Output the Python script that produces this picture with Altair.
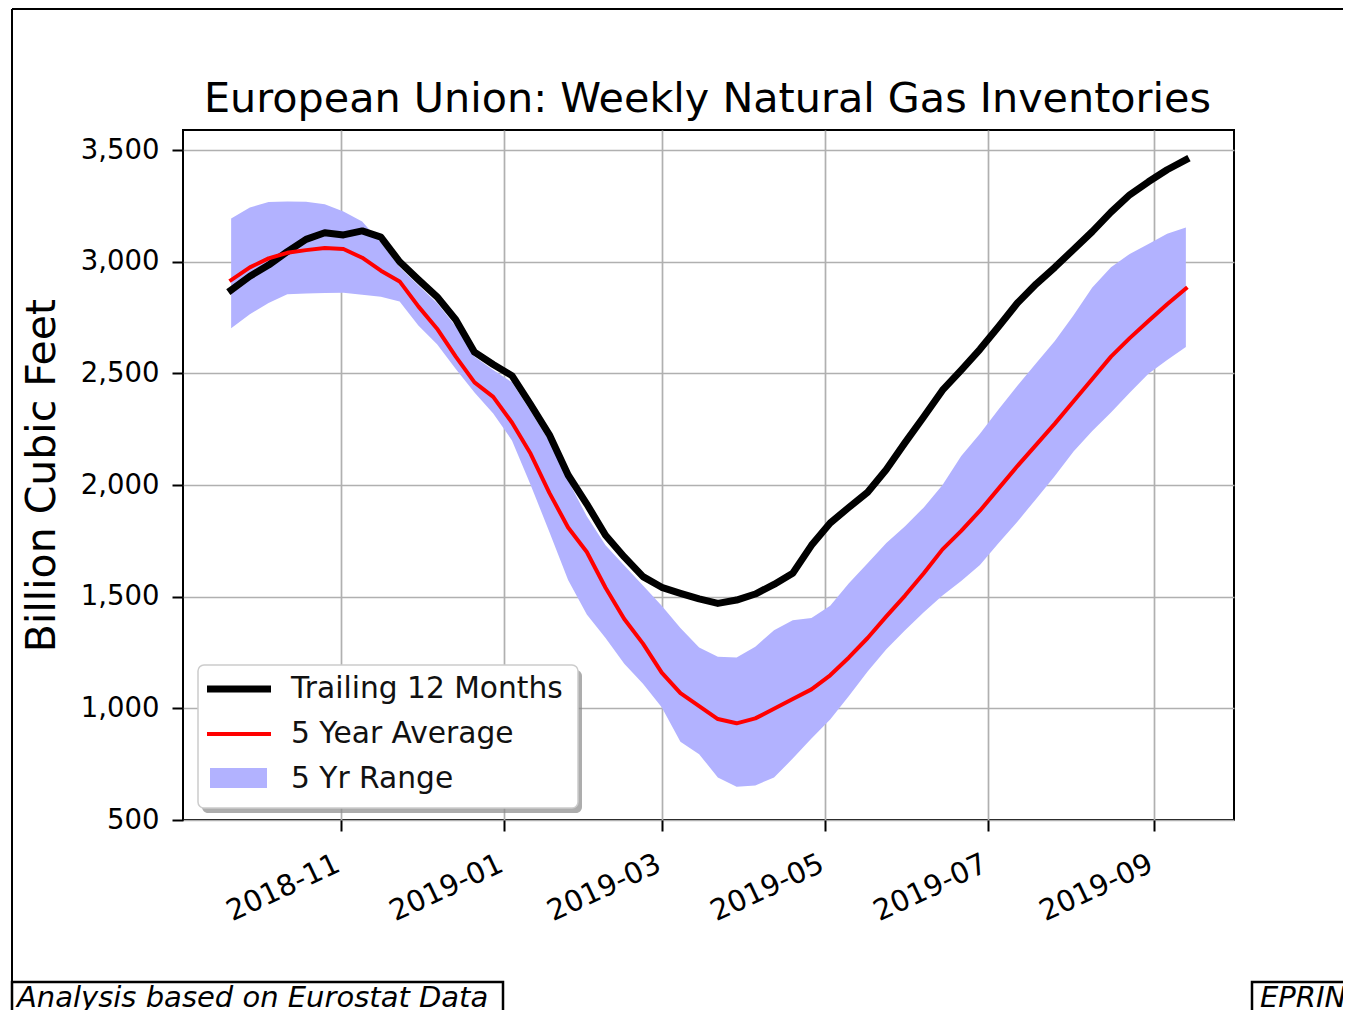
import altair as alt
import pandas as pd

# ---------------- data ----------------
first_week = "2018-09-21"
n_weeks = 52
dates = pd.date_range(first_week, periods=n_weeks, freq="7D").strftime("%Y-%m-%d").tolist()

trailing_12m = [2873, 2935, 2985, 3045, 3100, 3130, 3120, 3138, 3110, 3000,
                2920, 2843, 2740, 2595, 2540, 2490, 2360, 2225, 2045, 1915,
                1775, 1678, 1590, 1542, 1515, 1490, 1470, 1485, 1512, 1555,
                1605, 1730, 1830, 1900, 1968, 2070, 2190, 2306, 2425, 2515,
                2608, 2710, 2815, 2900, 2975, 3055, 3135, 3222, 3300, 3358,
                3412, 3457]

avg_5yr = [2918, 2975, 3015, 3040, 3052, 3062, 3057, 3018, 2960, 2912,
           2800, 2700, 2575, 2460, 2395, 2280, 2140, 1965, 1810, 1700,
           1540, 1400, 1290, 1160, 1068, 1010, 952, 933, 955, 998,
           1042, 1085, 1148, 1228, 1315, 1412, 1505, 1605, 1712, 1795,
           1885, 1985, 2085, 2180, 2275, 2375, 2475, 2575, 2658, 2735,
           2810, 2880]

range_hi = [3194, 3243, 3268, 3270, 3269, 3257, 3225, 3180, 3085, 2975,
            2895, 2815, 2710, 2575, 2515, 2460, 2330, 2195, 2020, 1860,
            1730, 1640, 1550, 1460, 1360, 1272, 1231, 1228, 1276, 1350,
            1395, 1405, 1460, 1560, 1650, 1740, 1815, 1900, 2000, 2130,
            2230, 2340, 2445, 2545, 2645, 2760, 2885, 2975, 3035, 3080,
            3125, 3153]

range_lo = [2702, 2765, 2815, 2855, 2858, 2860, 2861, 2852, 2843, 2822,
            2715, 2630, 2520, 2415, 2320, 2200, 2000, 1790, 1575, 1420,
            1315, 1200, 1110, 1005, 850, 795, 690, 649, 655, 690,
            775, 865, 950, 1055, 1165, 1265, 1350, 1430, 1505, 1570,
            1642, 1740, 1836, 1938, 2040, 2150, 2242, 2325, 2413, 2498,
            2560, 2618]

title_text = "European Union: Weekly Natural Gas Inventories"
y_title = "Billion Cubic Feet"
y_ticks = [500, 1000, 1500, 2000, 2500, 3000, 3500]
y_domain = [500, 3590]
x_ticks = ["2018-11-01", "2019-01-01", "2019-03-01", "2019-05-01", "2019-07-01", "2019-09-01"]
x_domain = ["2018-09-03", "2019-10-01"]
legend_labels = ["Trailing 12 Months", "5 Year Average", "5 Yr Range"]
footer_left = "Analysis based on Eurostat Data"
footer_right = "EPRINC"

FONT = "DejaVu Sans"
BAND = "#b2b2ff"
GRID = "#b0b0b0"


def dt(s):
    y, m, d = (int(p) for p in s.split("-"))
    return alt.DateTime(year=y, month=m, date=d, utc=True)


df = pd.DataFrame({"date": dates, "t12": trailing_12m, "avg": avg_5yr,
                   "hi": range_hi, "lo": range_lo})
one = pd.DataFrame({"k": [0]})

x_enc = alt.X(
    "date:T",
    scale=alt.Scale(type="utc", domain=[dt(s) for s in x_domain]),
    axis=alt.Axis(values=[dt(s) for s in x_ticks], format="%Y-%m", title=None,
                  labelAngle=335, labelAlign="right", labelBaseline="top",
                  labelPadding=18, labelOffset=-9, labelFontSize=29, labelFont=FONT,
                  labelColor="black", tickSize=11, tickColor="black", tickWidth=2,
                  domain=False, grid=True, gridColor=GRID, gridWidth=1.7,
                  labelOverlap=False),
)
y_scale = alt.Scale(domain=y_domain, nice=False, zero=False)
y_axis = alt.Axis(values=y_ticks, format=",.0f", title=y_title,
                  titleFontSize=41, titleFont=FONT, titleFontWeight="normal",
                  titleColor="black", titlePadding=17,
                  labelFontSize=27.5, labelFont=FONT, labelColor="black",
                  labelPadding=13, tickSize=11, tickColor="black", tickWidth=2,
                  domain=False, grid=True, gridColor=GRID, gridWidth=1.7)

band = alt.Chart(df).mark_area(color=BAND, opacity=1).encode(
    x=x_enc,
    y=alt.Y("lo:Q", scale=y_scale, axis=y_axis, title=y_title),
    y2="hi:Q",
)

black_line = alt.Chart(df).mark_line(color="black", strokeWidth=7, strokeCap="square",
                                     strokeJoin="round").encode(
    x=x_enc, y=alt.Y("t12:Q", scale=y_scale, axis=y_axis, title=y_title))

red_line = alt.Chart(df).mark_line(color="#ff0000", strokeWidth=4, strokeCap="square",
                                   strokeJoin="round").encode(
    x=x_enc, y=alt.Y("avg:Q", scale=y_scale, axis=y_axis, title=y_title))

# ---------------- title (drawn as text so page decorations do not push it) ----------------
title_mark = alt.Chart(pd.DataFrame({"t": [title_text]})).mark_text(
    font=FONT, fontSize=41.3, align="center", baseline="alphabetic", color="black"
).encode(text="t:N", x=alt.value(524.5), y=alt.value(-18))

# ---------------- legend (drawn) ----------------
leg_shadow = alt.Chart(one).mark_rect(color="#8a8a8a", opacity=0.7, cornerRadius=6).encode(
    x=alt.value(19), x2=alt.value(399), y=alt.value(540), y2=alt.value(683))
leg_box = alt.Chart(one).mark_rect(fill="white", stroke="#cccccc", strokeWidth=1.5,
                                   cornerRadius=6).encode(
    x=alt.value(15), x2=alt.value(395), y=alt.value(535), y2=alt.value(678))
leg_black = alt.Chart(one).mark_rule(color="black", strokeWidth=7).encode(
    x=alt.value(24), x2=alt.value(88), y=alt.value(559))
leg_red = alt.Chart(one).mark_rule(color="#ff0000", strokeWidth=4).encode(
    x=alt.value(24), x2=alt.value(88), y=alt.value(604))
leg_patch = alt.Chart(one).mark_rect(color=BAND).encode(
    x=alt.value(27), x2=alt.value(84), y=alt.value(638), y2=alt.value(658))
leg_texts = []
for lbl, yb in zip(legend_labels, [568, 613, 658]):
    leg_texts.append(
        alt.Chart(pd.DataFrame({"label": [lbl]})).mark_text(
            font=FONT, fontSize=29.7, align="left", baseline="alphabetic", color="#111111"
        ).encode(text="label:N", x=alt.value(108), y=alt.value(yb)))

# ---------------- page frame & footers ----------------
frame_top = alt.Chart(one).mark_rule(color="black", strokeWidth=2).encode(
    x=alt.value(-171), x2=alt.value(1170), y=alt.value(-121))
frame_left = alt.Chart(one).mark_rule(color="black", strokeWidth=2).encode(
    x=alt.value(-171), y=alt.value(-121), y2=alt.value(900))
foot_l_box = alt.Chart(one).mark_rect(fill="white", stroke="black", strokeWidth=2.5).encode(
    x=alt.value(-171), x2=alt.value(320), y=alt.value(852), y2=alt.value(910))
foot_r_box = alt.Chart(one).mark_rect(fill="white", stroke="black", strokeWidth=2.5).encode(
    x=alt.value(1069), x2=alt.value(1200), y=alt.value(852), y2=alt.value(910))
foot_l_txt = alt.Chart(pd.DataFrame({"t": [footer_left]})).mark_text(
    font=FONT, fontSize=29, fontStyle="italic", align="left", baseline="alphabetic",
    color="black").encode(text="t:N", x=alt.value(-166), y=alt.value(877))
foot_r_txt = alt.Chart(pd.DataFrame({"t": [footer_right]})).mark_text(
    font=FONT, fontSize=29, fontStyle="italic", align="left", baseline="alphabetic",
    color="black").encode(text="t:N", x=alt.value(1077), y=alt.value(877))

chart = alt.layer(
    band, black_line, red_line, title_mark,
    leg_shadow, leg_box, leg_black, leg_red, leg_patch, *leg_texts,
    frame_top, frame_left, foot_l_box, foot_r_box, foot_l_txt, foot_r_txt,
).properties(
    width=1051, height=690,
    background="white",
    padding={"left": 175, "top": 122, "right": 109, "bottom": 190},
    autosize=alt.AutoSizeParams(type="none"),
).configure_view(
    stroke="black", strokeWidth=2
)

chart.save("out.html", embed_options={"renderer": "svg", "actions": False})
